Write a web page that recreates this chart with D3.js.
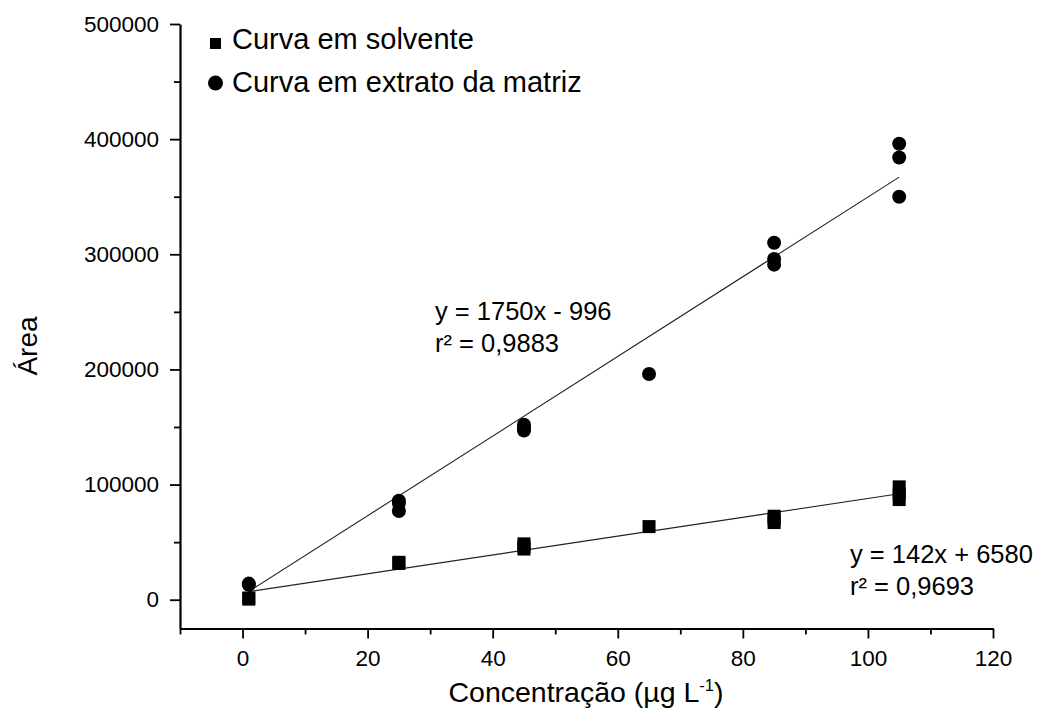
<!DOCTYPE html>
<html>
<head>
<meta charset="utf-8">
<script src="https://cdn.jsdelivr.net/npm/d3@7"></script>
<style>
  html, body { margin: 0; padding: 0; background: #fff; }
  svg { display: block; font-family: "Liberation Sans", Arial, sans-serif; }
</style>
</head>
<body>
<svg id="chart" width="1042" height="711"></svg>
<script>
// Concentration levels (µg L-1)
const concentrations = [1, 25, 45, 65, 85, 105];

// Peak areas, replicate injections per level
const solventAreas = [
  [500, 1500],
  [32500, 31500],
  [48500, 46000, 44000],
  [63500],
  [72500, 70000, 67000],
  [98000, 92000, 87000]
];
const matrixAreas = [
  [14000, 13000],
  [86000, 84000, 77000],
  [152000, 149000, 147000],
  [196000],
  [310000, 296000, 291000],
  [396000, 384000, 350000]
];

// Fitted calibration lines, evaluated at the ends of the range
const fitX = [1, 105];
const solventFit = [7000, 92000];
const matrixFit = [7200, 367000];

// Axis ticks
const xTicks = [0, 20, 40, 60, 80, 100, 120];
const xMinorTicks = [-10, 10, 30, 50, 70, 90, 110];
const yTicks = [0, 100000, 200000, 300000, 400000, 500000];
const yMinorTicks = [50000, 150000, 250000, 350000, 450000];

// Text
const legendLabels = ["Curva em solvente", "Curva em extrato da matriz"];
const solventEq = ["y = 142x + 6580", "r² = 0,9693"];
const matrixEq = ["y = 1750x - 996", "r² = 0,9883"];

const svg = d3.select("#chart");
const plotLeft = 180, plotRight = 993, plotTop = 24, plotBottom = 628.5;

const x = d3.scaleLinear().domain([-10, 120]).range([plotLeft, plotRight]);
const y = d3.scaleLinear().domain([-25000, 500000]).range([plotBottom, plotTop]);

// Axes
const axisG = svg.append("g");
axisG.append("g").attr("transform", `translate(0,${plotBottom})`)
  .call(d3.axisBottom(x).tickValues(xTicks).tickSize(10).tickPadding(12).tickSizeOuter(0).tickFormat(d3.format("d")));
axisG.append("g").attr("transform", `translate(0,${plotBottom})`)
  .call(d3.axisBottom(x).tickValues(xMinorTicks).tickSize(6).tickSizeOuter(0).tickFormat(""))
  .select(".domain").remove();
axisG.append("g").attr("transform", `translate(${plotLeft},0)`)
  .call(d3.axisLeft(y).tickValues(yTicks).tickSize(10).tickPadding(11).tickSizeOuter(0).tickFormat(d3.format("d")));
axisG.append("g").attr("transform", `translate(${plotLeft},0)`)
  .call(d3.axisLeft(y).tickValues(yMinorTicks).tickSize(6).tickSizeOuter(0).tickFormat(""))
  .select(".domain").remove();

axisG.selectAll(".domain").attr("stroke", "#000").attr("stroke-width", 2.2);
axisG.selectAll(".tick line").attr("stroke", "#000").attr("stroke-width", 1.8);
axisG.selectAll(".tick text").attr("fill", "#000").style("font-size", "22.5px")
  .style("font-family", "'Liberation Sans', Arial, sans-serif");

// Axis titles
const xTitle = svg.append("text")
  .attr("x", 586).attr("y", 702)
  .attr("text-anchor", "middle").style("font-size", "28.5px").attr("fill", "#000");
xTitle.append("tspan").text("Concentração (µg L");
xTitle.append("tspan").attr("dy", -11).style("font-size", "16.5px").text("-1");
xTitle.append("tspan").attr("dy", 11).text(")");

svg.append("text")
  .attr("transform", `translate(37,346) rotate(-90)`)
  .attr("text-anchor", "middle").style("font-size", "28px").attr("fill", "#000")
  .text("Área");

// Fitted lines
const line = d3.line().x(d => x(d[0])).y(d => y(d[1]));
[solventFit, matrixFit].forEach(fit => {
  svg.append("path")
    .datum(fitX.map((cx, i) => [cx, fit[i]]))
    .attr("d", line).attr("fill", "none").attr("stroke", "#222").attr("stroke-width", 1.1);
});

// Flatten replicate data
const flat = (arr) => arr.flatMap((reps, i) => reps.map(v => ({ c: concentrations[i], v })));

// Matrix points (circles)
svg.append("g").selectAll("circle").data(flat(matrixAreas)).join("circle")
  .attr("cx", d => x(d.c)).attr("cy", d => y(d.v)).attr("r", 7).attr("fill", "#000");

// Solvent points (squares)
const sq = 13;
svg.append("g").selectAll("rect").data(flat(solventAreas)).join("rect")
  .attr("x", d => x(d.c) - sq / 2).attr("y", d => y(d.v) - sq / 2)
  .attr("width", sq).attr("height", sq).attr("fill", "#000");

// Equation labels
const eqStyle = (sel) => sel.style("font-size", "25.5px").attr("fill", "#000");
matrixEq.forEach((t, i) => {
  svg.append("text").attr("x", 435).attr("y", 320 + i * 32).call(eqStyle).text(t);
});
solventEq.forEach((t, i) => {
  svg.append("text").attr("x", 850).attr("y", 563 + i * 32).call(eqStyle).text(t);
});

// Legend
const legend = svg.append("g");
legend.append("rect").attr("x", 210).attr("y", 38).attr("width", 11).attr("height", 11).attr("fill", "#000");
legend.append("circle").attr("cx", 215.5).attr("cy", 83).attr("r", 7.5).attr("fill", "#000");
legendLabels.forEach((t, i) => {
  legend.append("text").attr("x", 232).attr("y", 49 + i * 43)
    .style("font-size", "29px").attr("fill", "#000").text(t);
});
</script>
</body>
</html>
